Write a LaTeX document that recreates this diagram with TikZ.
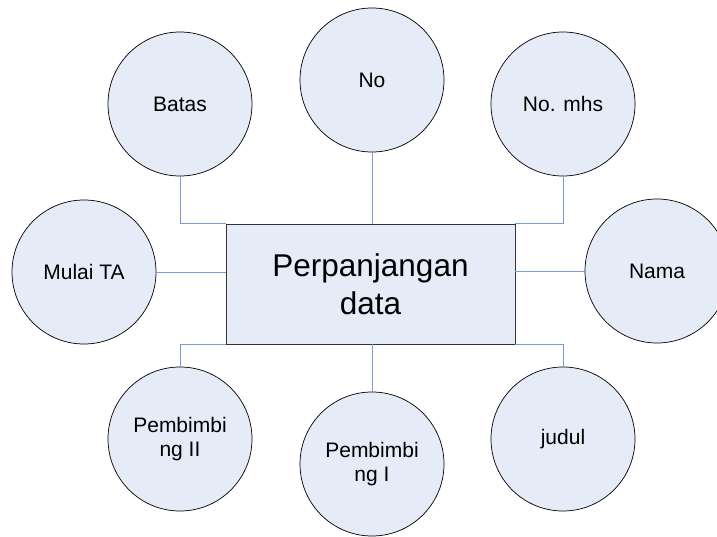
\documentclass[tikz,border=0pt]{standalone}
\usepackage{fontspec}
\setmainfont{Liberation Sans}
\usepackage{xcolor}
\usepackage{tikz}
\usetikzlibrary{positioning}

\definecolor{attrfill}{RGB}{230,236,247}
\definecolor{linkblue}{RGB}{124,156,212}

\begin{document}
\begin{tikzpicture}[x=1pt,y=-1pt,
      attr/.style={draw=black,circle,minimum size=144pt,inner sep=0pt,fill=attrfill,line width=0.7pt,align=center,font=\fontsize{21}{24.5}\selectfont},
      entity/.style={draw=black!80,minimum width=289pt,minimum height=120pt,inner sep=0pt,fill=attrfill,line width=0.8pt,align=center,font=\fontsize{31.5}{37.5}\selectfont},
      link/.style={draw=linkblue,line width=0.9pt}]
    \useasboundingbox (0,0) rectangle (717,537);
    \node[entity] (data) at (370.5,284) {Perpanjangan\\data};
    \foreach \n/\x/\y/\lab in {batas/180/104/Batas,no/372/80/No,nomhs/563/104/No. mhs,mulai/84/272/Mulai TA,nama/657/271/Nama,pemb2/180/439/{Pembimbi\\ng II},pemb1/372/464/{Pembimbi\\ng I},judul/563/439/judul} {
      \node[attr] (\n) at (\x,\y) {\lab};
    }
    % top row
    \draw[link] (batas.south) |- (data.north west);
    \draw[link] (no.south) -- (no.south |- data.north);
    \draw[link] (nomhs.south) |- (data.north east);
    % sides
    \draw[link] (mulai.east) -- (mulai.east -| data.west);
    \draw[link] (nama.west) -- (nama.west -| data.east);
    % bottom row
    \draw[link] (data.south west) -| (pemb2.north);
    \draw[link] (pemb1.north |- data.south) -- (pemb1.north);
    \draw[link] (data.south east) -| (judul.north);
  \end{tikzpicture}
\end{document}
